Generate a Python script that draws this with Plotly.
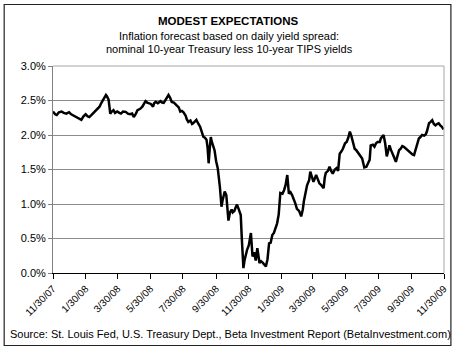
import plotly.graph_objects as go

# Daily breakeven inflation (nominal 10-yr Treasury minus 10-yr TIPS), percent
dates = [
    "2007-11-30", "2007-12-04", "2007-12-07", "2007-12-11", "2007-12-16", "2007-12-20", "2007-12-25", "2007-12-30",
    "2008-01-03", "2008-01-08", "2008-01-13", "2008-01-17", "2008-01-22", "2008-01-26", "2008-01-30",
    "2008-02-03", "2008-02-06", "2008-02-11", "2008-02-16", "2008-02-20", "2008-02-25", "2008-02-28",
    "2008-03-02", "2008-03-05", "2008-03-08", "2008-03-10", "2008-03-13", "2008-03-15", "2008-03-16", "2008-03-19", "2008-03-22", "2008-03-25", "2008-03-29",
    "2008-04-02", "2008-04-05", "2008-04-09", "2008-04-14", "2008-04-18", "2008-04-22", "2008-04-26", "2008-04-29",
    "2008-05-03", "2008-05-06", "2008-05-11", "2008-05-15", "2008-05-18", "2008-05-21", "2008-05-24", "2008-05-27", "2008-05-31",
    "2008-06-04", "2008-06-06", "2008-06-09", "2008-06-13", "2008-06-18", "2008-06-21", "2008-06-24", "2008-06-28",
    "2008-07-01", "2008-07-03", "2008-07-06", "2008-07-09", "2008-07-13", "2008-07-18", "2008-07-22", "2008-07-25", "2008-07-28", "2008-07-31",
    "2008-08-04", "2008-08-06", "2008-08-09", "2008-08-13", "2008-08-16", "2008-08-18", "2008-08-21", "2008-08-24", "2008-08-28", "2008-08-31",
    "2008-09-03", "2008-09-06", "2008-09-09", "2008-09-12", "2008-09-14", "2008-09-16", "2008-09-18", "2008-09-20", "2008-09-22", "2008-09-27", "2008-09-30",
    "2008-10-03", "2008-10-07", "2008-10-10", "2008-10-12", "2008-10-14", "2008-10-16", "2008-10-19", "2008-10-21", "2008-10-23", "2008-10-26", "2008-10-29", "2008-10-31",
    "2008-11-03", "2008-11-06", "2008-11-08", "2008-11-11", "2008-11-15", "2008-11-17", "2008-11-20", "2008-11-22", "2008-11-25", "2008-11-27", "2008-11-30",
    "2008-12-04", "2008-12-07", "2008-12-10", "2008-12-13", "2008-12-16", "2008-12-20", "2008-12-23", "2008-12-26", "2008-12-29",
    "2009-01-01", "2009-01-04", "2009-01-07", "2009-01-10", "2009-01-13", "2009-01-16", "2009-01-19", "2009-01-22", "2009-01-25", "2009-01-27", "2009-01-28",
    "2009-02-01", "2009-02-04", "2009-02-07", "2009-02-10", "2009-02-13", "2009-02-16", "2009-02-19", "2009-02-22", "2009-02-25", "2009-02-28",
    "2009-03-04", "2009-03-08", "2009-03-11", "2009-03-13", "2009-03-16", "2009-03-19", "2009-03-23", "2009-03-25", "2009-03-27", "2009-03-31",
    "2009-04-03", "2009-04-05", "2009-04-08", "2009-04-11", "2009-04-15", "2009-04-19", "2009-04-21", "2009-04-23", "2009-04-27", "2009-04-30",
    "2009-05-03", "2009-05-06", "2009-05-10", "2009-05-13", "2009-05-16", "2009-05-19", "2009-05-22", "2009-05-25", "2009-05-29",
    "2009-06-01", "2009-06-04", "2009-06-07", "2009-06-10", "2009-06-13", "2009-06-16", "2009-06-19", "2009-06-23", "2009-06-27", "2009-06-30",
    "2009-07-04", "2009-07-08", "2009-07-11", "2009-07-14", "2009-07-16", "2009-07-20", "2009-07-23", "2009-07-26", "2009-07-29",
    "2009-08-02", "2009-08-04", "2009-08-09", "2009-08-12", "2009-08-15", "2009-08-17", "2009-08-20", "2009-08-23", "2009-08-26", "2009-08-29",
    "2009-09-01", "2009-09-04", "2009-09-07", "2009-09-10", "2009-09-13", "2009-09-16", "2009-09-20", "2009-09-23", "2009-09-26", "2009-09-29",
    "2009-10-02", "2009-10-05", "2009-10-08", "2009-10-11", "2009-10-14", "2009-10-17", "2009-10-20", "2009-10-24", "2009-10-27", "2009-10-29",
    "2009-11-02", "2009-11-05", "2009-11-08", "2009-11-11", "2009-11-14", "2009-11-17", "2009-11-20", "2009-11-23", "2009-11-26", "2009-11-29",
]

spread = [
    2.34, 2.30, 2.29, 2.33, 2.34, 2.32, 2.31, 2.33,
    2.30, 2.28, 2.26, 2.24, 2.22, 2.27, 2.30,
    2.27, 2.26, 2.30, 2.34, 2.36, 2.41, 2.46,
    2.50, 2.55, 2.58, 2.56, 2.51, 2.38, 2.31, 2.34, 2.36, 2.32, 2.34,
    2.32, 2.31, 2.34, 2.335, 2.31, 2.30, 2.31, 2.26,
    2.31, 2.36, 2.38, 2.41, 2.45, 2.49, 2.47, 2.465, 2.45,
    2.41, 2.46, 2.48, 2.46, 2.49, 2.47, 2.465, 2.51,
    2.55, 2.58, 2.54, 2.48, 2.47, 2.43, 2.40, 2.34, 2.35, 2.33,
    2.28, 2.23, 2.19, 2.21, 2.16, 2.17, 2.20, 2.22, 2.16, 2.12,
    2.05, 1.975, 1.96, 1.93, 1.82, 1.59, 1.80, 1.97, 1.90, 1.78, 1.62,
    1.52, 1.25, 0.96, 1.05, 1.15, 1.18, 1.13, 0.95, 0.76, 0.88, 0.92, 0.88,
    0.90, 0.96, 0.99, 0.93, 0.84, 0.50, 0.07, 0.18, 0.31, 0.34, 0.40,
    0.58, 0.24, 0.30, 0.18, 0.36, 0.145, 0.17, 0.15, 0.12,
    0.095, 0.20, 0.43, 0.44, 0.55, 0.58, 0.65, 0.72, 0.85, 1.05, 1.16,
    1.15, 1.20, 1.28, 1.42, 1.15, 1.17, 1.13, 1.08, 1.01, 0.93,
    0.90, 0.82, 0.92, 1.04, 1.16, 1.27, 1.35, 1.47, 1.42, 1.32,
    1.38, 1.42, 1.36, 1.30, 1.27, 1.23, 1.38, 1.45, 1.48, 1.54,
    1.48, 1.44, 1.50, 1.52, 1.48, 1.73, 1.76, 1.80, 1.88,
    1.90, 1.96, 2.05, 1.98, 1.90, 1.80, 1.78, 1.74, 1.69, 1.66,
    1.53, 1.54, 1.59, 1.64, 1.85, 1.86, 1.83, 1.88, 1.90,
    1.90, 1.95, 2.00, 1.88, 1.69, 1.75, 1.85, 1.78, 1.71, 1.67,
    1.61, 1.70, 1.78, 1.80, 1.84, 1.83, 1.80, 1.78, 1.76, 1.73,
    1.72, 1.71, 1.80, 1.85, 1.95, 1.97, 2.00, 1.99, 2.01, 2.05,
    2.17, 2.19, 2.215, 2.16, 2.14, 2.16, 2.17, 2.14, 2.12, 2.08,
]

tick_dates = [
    "2007-11-30", "2008-01-30", "2008-03-30", "2008-05-30", "2008-07-30", "2008-09-30", "2008-11-30",
    "2009-01-30", "2009-03-30", "2009-05-30", "2009-07-30", "2009-09-30", "2009-11-30",
]
tick_labels = [
    "11/30/07", "1/30/08", "3/30/08", "5/30/08", "7/30/08", "9/30/08", "11/30/08",
    "1/30/09", "3/30/09", "5/30/09", "7/30/09", "9/30/09", "11/30/09",
]
y_ticks = [0.0, 0.5, 1.0, 1.5, 2.0, 2.5, 3.0]

title = "MODEST EXPECTATIONS"
subtitle = ["Inflation forecast based on daily yield spread:",
            "nominal 10-year Treasury less 10-year TIPS yields"]
source = "Source: St. Louis Fed, U.S. Treasury Dept., Beta Investment Report (BetaInvestment.com)"

FONT = "Liberation Sans, Arial, sans-serif"
WIDTH, HEIGHT = 460, 349
L, R, T, B = 52.5, 449, 65.7, 273.3
PW, PH = R - L, B - T


def px(x):
    return (x - L) / PW


def py(y):
    return (B - y) / PH


fig = go.Figure()
fig.add_trace(go.Scatter(
    x=dates, y=spread, mode="lines",
    line=dict(color="black", width=2.5),
    hoverinfo="skip", showlegend=False,
))

annotations = [
    dict(text=f"<b>{title}</b>", x=px(230), y=py(20.5), font=dict(size=11.5)),
    dict(text=subtitle[0], x=px(231), y=py(35.5), font=dict(size=11)),
    dict(text=subtitle[1], x=px(231), y=py(48.5), font=dict(size=11)),
    dict(text=source, x=px(232.5), y=py(334), font=dict(size=11)),
]
for a in annotations:
    a.update(xref="paper", yref="paper", showarrow=False,
             xanchor="center", yanchor="middle")
    a["font"].update(family=FONT, color="black")

shapes = [
    # outer frame of the whole graphic
    dict(type="rect", xref="paper", yref="paper",
         x0=px(3), x1=px(456), y0=py(346), y1=py(4),
         line=dict(color="#222222", width=1.2)),
    # top and right edges of the plot area
    dict(type="line", xref="paper", yref="paper", x0=0, x1=1, y0=1, y1=1,
         line=dict(color="#a6a6a6", width=1)),
    dict(type="line", xref="paper", yref="paper", x0=1, x1=1, y0=0, y1=1,
         line=dict(color="#a6a6a6", width=1)),
]

fig.update_layout(
    width=WIDTH, height=HEIGHT,
    margin=dict(l=L, r=WIDTH - R, t=T, b=HEIGHT - B, pad=0),
    paper_bgcolor="white", plot_bgcolor="white",
    font=dict(family=FONT, color="black"),
    annotations=annotations, shapes=shapes,
    xaxis=dict(
        type="date", range=[tick_dates[0], tick_dates[-1]],
        tickmode="array", tickvals=tick_dates, ticktext=tick_labels,
        tickangle=-45, tickfont=dict(size=10, family=FONT, color="black"),
        showgrid=False, zeroline=False,
        showline=True, linecolor="black", linewidth=1,
        ticks="outside", ticklen=5, tickcolor="black", tickwidth=1,
    ),
    yaxis=dict(
        range=[0, 3.0], tickmode="array", tickvals=y_ticks,
        ticktext=[f"{v:.1f}%" for v in y_ticks],
        tickfont=dict(size=11, family=FONT, color="black"),
        showgrid=True, gridcolor="#8c8c8c", gridwidth=1, zeroline=False,
        showline=True, linecolor="#808080", linewidth=1,
        ticks="outside", ticklen=4, tickcolor="#808080", tickwidth=1,
    ),
)

fig.write_html("out.html")
